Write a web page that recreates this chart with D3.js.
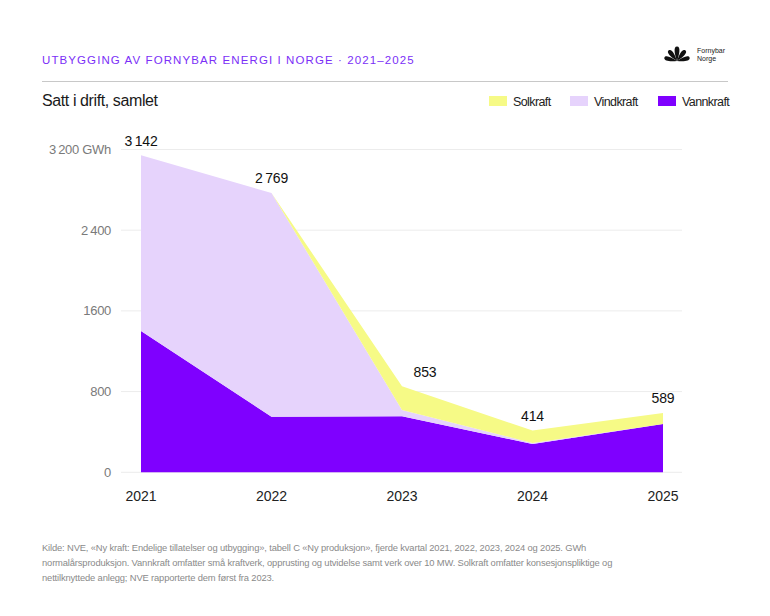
<!DOCTYPE html>
<html><head><meta charset="utf-8">
<script src="https://cdn.jsdelivr.net/npm/d3@7"></script>
<style>
body{margin:0;background:#fff}
svg{display:block}
text{font-family:"Liberation Sans",Arial,Helvetica,sans-serif}
</style>
</head><body>
<svg id="c" width="770" height="616"></svg>
<script>
// ---- data ----
const years = ["2021", "2022", "2023", "2024", "2025"];
const vannkraft = [1400, 551, 556, 280, 479];
const vindkraft = [1742, 2218, 62, 10, 0];
const solkraft = [0, 0, 235, 124, 110];
const totalLabels = ["3\u2009142", "2\u2009769", "853", "414", "589"];
const yTicks = [0, 800, 1600, 2400, 3200];
const yTickLabels = ["0", "800", "1600", "2\u2009400", "3\u2009200 GWh"];
const seriesKeys = ["Vannkraft", "Vindkraft", "Solkraft"];
const legendKeys = ["Solkraft", "Vindkraft", "Vannkraft"];
const titleText = "UTBYGGING AV FORNYBAR ENERGI I NORGE \u00b7 2021\u20132025";
const subtitleText = "Satt i drift, samlet";
const footerLines = [
  "Kilde: NVE, \u00abNy kraft: Endelige tillatelser og utbygging\u00bb, tabell C \u00abNy produksjon\u00bb, fjerde kvartal 2021, 2022, 2023, 2024 og 2025. GWh",
  "normal\u00e5rsproduksjon. Vannkraft omfatter sm\u00e5 kraftverk, opprusting og utvidelse samt verk over 10 MW. Solkraft omfatter konsesjonspliktige og",
  "nettilknyttede anlegg; NVE rapporterte dem f\u00f8rst fra 2023."
];

const colors = {Vannkraft: "#7f00ff", Vindkraft: "#e6d3fc", Solkraft: "#f6fa86"};

const rows = years.map((yr, i) => ({year: yr, Vannkraft: vannkraft[i], Vindkraft: vindkraft[i], Solkraft: solkraft[i]}));

const svg = d3.select("#c");

// ---- header ----
const title = svg.append("text").attr("x", 42).attr("y", 64)
  .attr("fill", "#7b2ff7").attr("font-size", 11.5).text(titleText);
{
  const n = titleText.length;
  const w = title.node().getComputedTextLength();
  title.attr("letter-spacing", ((373 - w) / n).toFixed(2) + "px");
}
svg.append("line").attr("x1", 42).attr("x2", 728).attr("y1", 81.5).attr("y2", 81.5)
  .attr("stroke", "#c8c8c8").attr("stroke-width", 1);
svg.append("text").attr("x", 42).attr("y", 106).attr("fill", "#1a1a1a")
  .attr("font-size", 16).attr("letter-spacing", "-0.4px").text(subtitleText);

// logo
const logo = svg.append("g").attr("transform", "translate(677,61)");
const petal = (L, W) => `M0,0 C${-W * 0.6},${-L * 0.45} ${-W},${-L} 0,${-L} C${W},${-L} ${W * 0.6},${-L * 0.45} 0,0 Z`;
[[-76, 13, 3.6], [-38, 13.5, 3.8], [0, 14.5, 4], [38, 13.5, 3.8], [76, 13, 3.6]].forEach(([a, L, W]) => {
  logo.append("path").attr("d", petal(L, W)).attr("transform", `rotate(${a})`).attr("fill", "#111");
});
svg.append("text").attr("x", 697).attr("y", 52.5).attr("font-size", 7).attr("fill", "#222").text("Fornybar");
svg.append("text").attr("x", 697).attr("y", 60.5).attr("font-size", 7).attr("fill", "#222").text("Norge");

// legend
const legendX = {Solkraft: 489, Vindkraft: 570, Vannkraft: 658};
legendKeys.forEach(k => {
  svg.append("rect").attr("x", legendX[k]).attr("y", 96).attr("width", 18).attr("height", 10)
    .attr("fill", colors[k]);
  svg.append("text").attr("x", legendX[k] + 24).attr("y", 105.5).attr("font-size", 12.5)
    .attr("letter-spacing", "-0.6px").attr("fill", "#222").text(k);
});

// ---- scales ----
const xS = d3.scalePoint().domain(years).range([141, 663]);
const yS = d3.scaleLinear().domain([0, 3200]).range([472.3, 149.5]);

// grid
svg.append("g").selectAll("line").data(yTicks).join("line")
  .attr("x1", 121).attr("x2", 682)
  .attr("y1", d => yS(d)).attr("y2", d => yS(d))
  .attr("stroke", "#ececec").attr("stroke-width", 1);

// y tick labels
svg.append("g").selectAll("text").data(yTicks).join("text")
  .attr("x", 111).attr("y", d => yS(d) + 4.5).attr("text-anchor", "end")
  .attr("font-size", 13).attr("letter-spacing", "-0.3px").attr("fill", "#7a7a7a")
  .text((d, i) => yTickLabels[i]);

// stacked areas
const stack = d3.stack().keys(seriesKeys);
const layers = stack(rows);
const area = d3.area().x(d => xS(d.data.year)).y0(d => yS(d[0])).y1(d => yS(d[1]));
svg.append("g").selectAll("path").data(layers).join("path")
  .attr("d", area).attr("fill", d => colors[d.key]);

// total labels
const topLayer = layers[layers.length - 1];
svg.append("g").selectAll("text").data(topLayer).join("text")
  .attr("x", (d, i) => xS(d.data.year) + (i === 2 ? 23 : 0))
  .attr("y", d => yS(d[1]) - 9.5)
  .attr("text-anchor", "middle").attr("font-size", 14).attr("letter-spacing", "-0.2px")
  .attr("fill", "#111")
  .text((d, i) => totalLabels[i]);

// x labels
svg.append("g").selectAll("text").data(years).join("text")
  .attr("x", d => xS(d)).attr("y", 500.5).attr("text-anchor", "middle")
  .attr("font-size", 14).attr("fill", "#222").text(d => d);

// footer
svg.append("g").selectAll("text").data(footerLines).join("text")
  .attr("x", 42).attr("y", (d, i) => 551 + i * 15)
  .attr("font-size", 9.4).attr("letter-spacing", "-0.15px").attr("fill", "#8a8a8a").text(d => d);
</script>
</body></html>
